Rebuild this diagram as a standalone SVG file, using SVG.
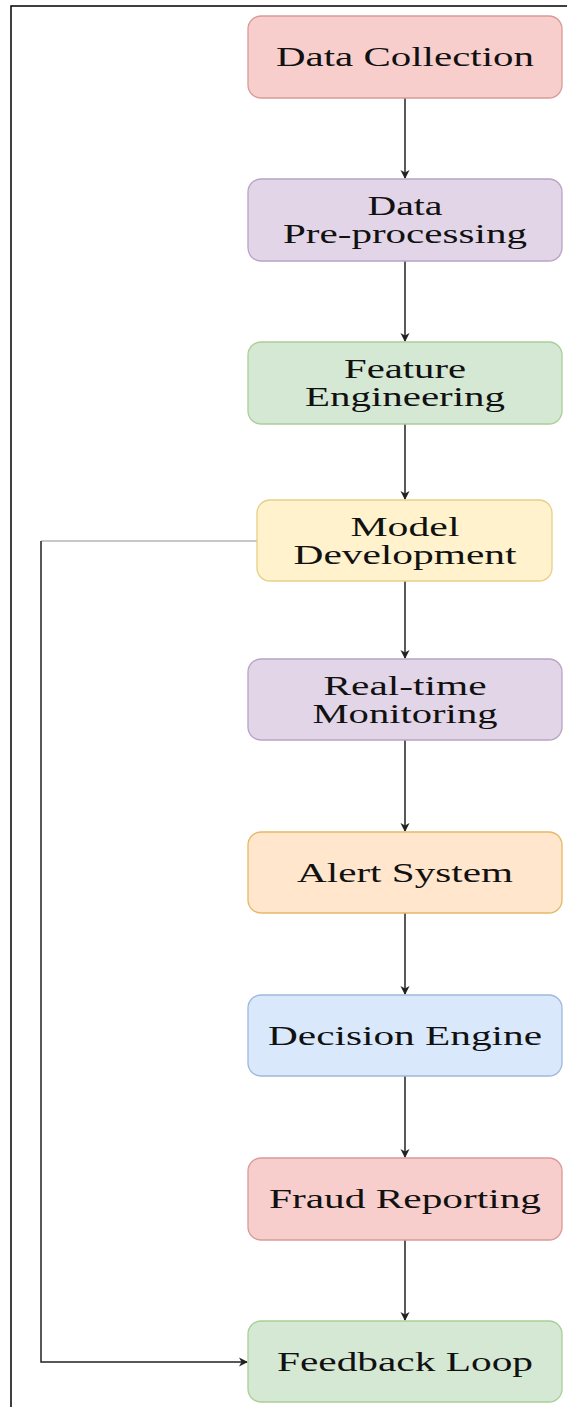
<svg xmlns="http://www.w3.org/2000/svg" width="567" height="1407" viewBox="0 0 567 1407">
<style>
.box{stroke-width:1.3}
.red{fill:#f8cecc;stroke:#d99a98}
.purple{fill:#e1d5e7;stroke:#b9a3c6}
.green{fill:#d5e8d4;stroke:#a9cf97}
.yellow{fill:#fff2cc;stroke:#e6cf86}
.orange{fill:#ffe6cc;stroke:#e6b866}
.blue{fill:#dae8fc;stroke:#9fb8dc}
text{font-family:"Liberation Serif","Times New Roman",serif;font-size:27px;fill:#111;text-anchor:middle}
.edge{fill:none;stroke:#222;stroke-width:1.5}
</style>
<defs>
<marker id="arr" markerWidth="12" markerHeight="12" refX="9" refY="6" orient="auto" markerUnits="userSpaceOnUse">
<path d="M1,1.5 L10,6 L1,10.5 L3.5,6 Z" fill="#222"/>
</marker>
</defs>
<rect width="567" height="1407" fill="#fff"/>
<path d="M11,1407 V6 H567" fill="none" stroke="#000" stroke-width="1.5"/>
<g id="connectors">
<line class="edge" x1="405" y1="98" x2="405" y2="178" marker-end="url(#arr)"/>
<line class="edge" x1="405" y1="261" x2="405" y2="341" marker-end="url(#arr)"/>
<line class="edge" x1="405" y1="424" x2="405" y2="499" marker-end="url(#arr)"/>
<line class="edge" x1="405" y1="581" x2="405" y2="658" marker-end="url(#arr)"/>
<line class="edge" x1="405" y1="740" x2="405" y2="831" marker-end="url(#arr)"/>
<line class="edge" x1="405" y1="913" x2="405" y2="994" marker-end="url(#arr)"/>
<line class="edge" x1="405" y1="1076" x2="405" y2="1157" marker-end="url(#arr)"/>
<line class="edge" x1="405" y1="1240" x2="405" y2="1320" marker-end="url(#arr)"/>
<path d="M257,541 H41" fill="none" stroke="#c8c8c8" stroke-width="2"/>
<path class="edge" d="M41,541 V1362 H247" marker-end="url(#arr)"/>
</g>
<g id="data-collection">
<rect class="box red" x="248" y="16" width="314" height="82" rx="13"/>
<text x="405" y="66" textLength="258" lengthAdjust="spacingAndGlyphs">Data Collection</text>
</g>
<g id="data-preprocessing">
<rect class="box purple" x="248" y="179" width="314" height="82" rx="13"/>
<text x="405" y="215" textLength="75" lengthAdjust="spacingAndGlyphs">Data</text>
<text x="405" y="243" textLength="244" lengthAdjust="spacingAndGlyphs">Pre-processing</text>
</g>
<g id="feature-engineering">
<rect class="box green" x="248" y="342" width="314" height="82" rx="13"/>
<text x="405" y="378" textLength="122" lengthAdjust="spacingAndGlyphs">Feature</text>
<text x="405" y="406" textLength="200" lengthAdjust="spacingAndGlyphs">Engineering</text>
</g>
<g id="model-development">
<rect class="box yellow" x="257" y="500" width="295" height="81" rx="13"/>
<text x="405" y="535.5" textLength="109" lengthAdjust="spacingAndGlyphs">Model</text>
<text x="405" y="563.5" textLength="223" lengthAdjust="spacingAndGlyphs">Development</text>
</g>
<g id="realtime-monitoring">
<rect class="box purple" x="248" y="659" width="314" height="81" rx="13"/>
<text x="405" y="694.5" textLength="163" lengthAdjust="spacingAndGlyphs">Real-time</text>
<text x="405" y="722.5" textLength="185" lengthAdjust="spacingAndGlyphs">Monitoring</text>
</g>
<g id="alert-system">
<rect class="box orange" x="248" y="832" width="314" height="81" rx="13"/>
<text x="405" y="881.5" textLength="216" lengthAdjust="spacingAndGlyphs">Alert System</text>
</g>
<g id="decision-engine">
<rect class="box blue" x="248" y="995" width="314" height="81" rx="13"/>
<text x="405" y="1044.5" textLength="274" lengthAdjust="spacingAndGlyphs">Decision Engine</text>
</g>
<g id="fraud-reporting">
<rect class="box red" x="248" y="1158" width="314" height="82" rx="13"/>
<text x="405" y="1207.5" textLength="272" lengthAdjust="spacingAndGlyphs">Fraud Reporting</text>
</g>
<g id="feedback-loop">
<rect class="box green" x="248" y="1321" width="314" height="81" rx="13"/>
<text x="405" y="1370.5" textLength="256" lengthAdjust="spacingAndGlyphs">Feedback Loop</text>
</g>
</svg>
